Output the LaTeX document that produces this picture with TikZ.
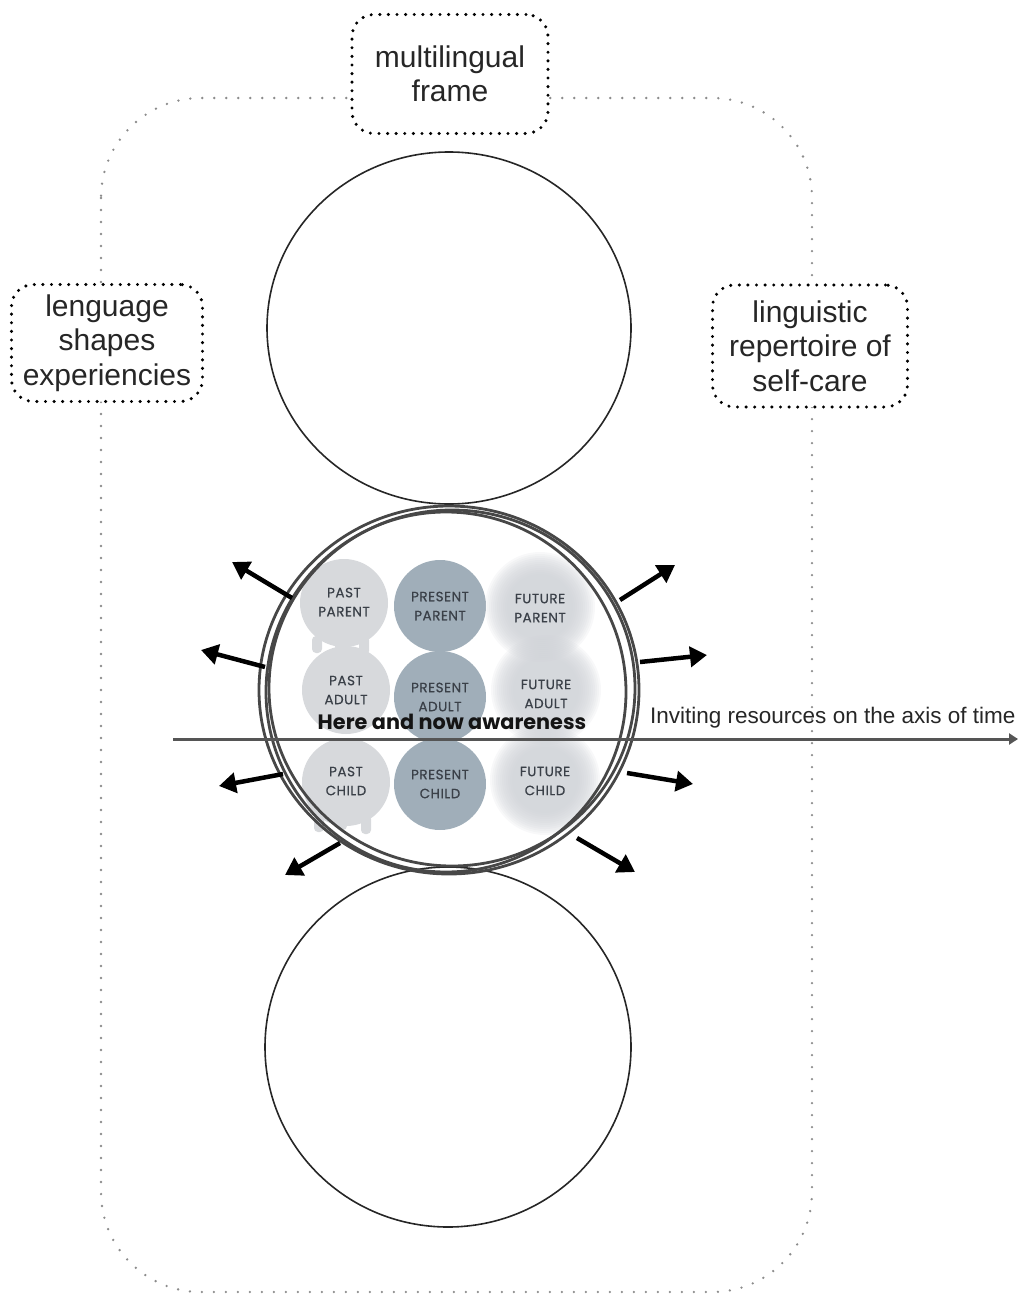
\documentclass[tikz,border=0pt]{standalone}
\usepackage{fontspec}
\setmainfont{Liberation Sans}
\newfontfamily\pop{Poppins}
\newfontfamily\popm{Poppins}[FakeBold=0.5,LetterSpace=4]
\usetikzlibrary{arrows.meta}
\definecolor{pastc}{HTML}{D7D9DC}
\definecolor{presc}{HTML}{A0AEB9}
\definecolor{futc}{HTML}{CDD0D5}
\definecolor{lblc}{HTML}{3A4048}
\definecolor{ringc}{HTML}{474747}
\definecolor{axisc}{HTML}{555555}
\tikzset{
  framedots/.style={draw=black!45, line width=2.6pt, line cap=round, dash pattern=on 0pt off 12pt},
  boxdots/.style={draw=black, line width=3.4pt, line cap=round, dash pattern=on 0pt off 8.6pt,
    rounded corners=22pt, fill=white, align=center, inner sep=0pt,
    font=\fontsize{30}{34.5}\selectfont, text=black!85},
  bigcirc/.style={draw=black!85, line width=1.6pt},
  ring/.style={draw=ringc, line width=2.8pt},
  lbl/.style={align=center, text=lblc, font=\popm\fontsize{13.5}{19}\selectfont, inner sep=0pt},
  outarrow/.style={line width=4.5pt, -{Triangle[length=17pt,width=20pt]}},
  fuzzdisc/.style={fill=futc, fill opacity=0.14},
}
\begin{document}
\begin{tikzpicture}[x=1pt,y=-1pt]
\useasboundingbox (0,0) rectangle (1019,1295);
% outer dotted frame
\draw[framedots, rounded corners=100pt] (101,98) rectangle (812,1292);
% big circles
\draw[bigcirc] (449,328) ellipse [x radius=182pt, y radius=176pt];
\draw[bigcirc] (448,1047) ellipse [x radius=183pt, y radius=180pt];
% dotted text boxes
\node[boxdots, minimum width=196pt, minimum height=119pt] (mf) at (450,74) {multilingual\\frame};
\node[boxdots, minimum width=191pt, minimum height=117pt] (ls) at (107,343) {lenguage\\shapes\\experiencies};
\node[boxdots, minimum width=195pt, minimum height=122pt] (lr) at (810,346) {linguistic\\repertoire of\\self-care};
% past circles with drips
\foreach \cx/\cy in {344/603, 346/690, 346/782}{
  \fill[pastc] (\cx,\cy) circle[radius=44pt];
}
\foreach \dx/\dl in {-27/5, -4/3, 20/7}{
  \fill[pastc, rounded corners=4pt] (344+\dx-5,636) rectangle (344+\dx+5,648+\dl);
  \fill[pastc, rounded corners=4pt] (346+\dx-5,815) rectangle (346+\dx+5,827+\dl);
}
% present circles
\foreach \cx/\cy in {440/606, 440/697, 440/784}{
  \fill[presc] (\cx,\cy) circle[radius=46pt];
}
% future circles (blurred): stacked translucent discs
\foreach \cx/\cy in {540/607, 546/690, 545/780}{
  \foreach \r in {55,53,...,33}{
    \fill[fuzzdisc] (\cx,\cy) circle[radius=\r pt];
  }
}
% labels
\node[lbl] (pp) at (344,602) {PAST\\PARENT};
\node[lbl] (pa) at (346,690) {PAST\\ADULT};
\node[lbl] (pc) at (346,781) {PAST\\CHILD};
\node[lbl] (sp) at (440,606) {PRESENT\\PARENT};
\node[lbl] (sa) at (440,697) {PRESENT\\ADULT};
\node[lbl] (sc) at (440,784) {PRESENT\\CHILD};
\node[lbl] (fp) at (540,608) {FUTURE\\PARENT};
\node[lbl] (fa) at (546,694) {FUTURE\\ADULT};
\node[lbl] (fc) at (545,781) {FUTURE\\CHILD};
% rings
\draw[ring] (449,690) ellipse [x radius=190pt, y radius=184pt];
\draw[ring] (452,688) ellipse [x radius=183pt, y radius=178pt];
\draw[ring] (446,692) ellipse [x radius=180pt, y radius=180pt];
% axis
\coordinate (axs) at (173,739);
\coordinate (axe) at (1018,739);
\draw[draw=axisc, line width=3pt, -{Triangle[length=9pt,width=11pt]}] (axs) -- (axe);
\node[anchor=base west, inner sep=0pt, text=black!85, font=\fontsize{22.5}{26}\selectfont] (inv) at (650,723) {Inviting resources on the axis of time};
\node[anchor=base, inner sep=0pt, text=black!92, font=\pop\bfseries\fontsize{20.8}{24}\selectfont] (hn) at (452,729) {Here and now awareness};
% arrows
\coordinate (a1s) at (292,598); \coordinate (a1e) at (232,562);
\coordinate (a2s) at (265,667); \coordinate (a2e) at (201,650);
\coordinate (a3s) at (283,774); \coordinate (a3e) at (219,786);
\coordinate (a4s) at (340,843); \coordinate (a4e) at (285,875);
\coordinate (a5s) at (620,600); \coordinate (a5e) at (675,565);
\coordinate (a6s) at (640,662); \coordinate (a6e) at (707,655);
\coordinate (a7s) at (627,773); \coordinate (a7e) at (693,784);
\coordinate (a8s) at (577,838); \coordinate (a8e) at (635,872);
\foreach \k in {1,...,8}{
  \draw[outarrow] (a\k s) -- (a\k e);
}
\end{tikzpicture}
\end{document}
